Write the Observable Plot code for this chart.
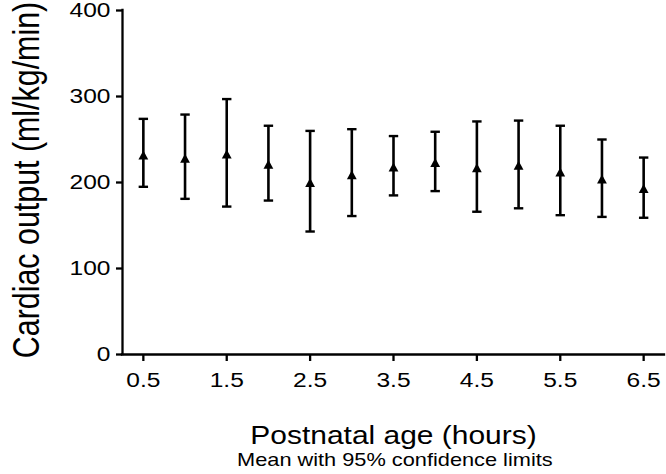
<!DOCTYPE html>
<html>
<head>
<meta charset="utf-8">
<script src="https://cdn.jsdelivr.net/npm/d3@7"></script>
<script src="https://cdn.jsdelivr.net/npm/@observablehq/plot@0.6"></script>
<style>
  html, body { margin: 0; padding: 0; background: #fff; overflow: hidden; }
  #chart svg { display: block; }
  #caption {
    width: 542px; margin-left: 124px; margin-top: 1px; text-align: center;
    font-family: "Liberation Sans", Arial, sans-serif;
    font-size: 18.6px; line-height: 18.6px; color: #000;
    white-space: nowrap;
  }
  #caption span { display: inline-block; transform: scaleX(1.17); transform-origin: center; }
</style>
</head>
<body>
<div id="chart"></div>
<div id="caption"><span>Mean with 95% confidence limits</span></div>
<script>
// Data
const hours = [0.5, 1.0, 1.5, 2.0, 2.5, 3.0, 3.5, 4.0, 4.5, 5.0, 5.5, 6.0, 6.5];
const means = [232, 228, 233, 221, 200, 209, 218, 223, 217, 220, 212, 204, 193];
const upper = [274, 279, 297, 266, 260, 262, 254, 259, 271, 272, 266, 250, 229];
const lower = [195, 181, 172, 179, 143, 161, 185, 190, 166, 170, 162, 160, 159];
const xTicks = [0.5, 1.5, 2.5, 3.5, 4.5, 5.5, 6.5];
const yTicks = [0, 100, 200, 300, 400];
const xLabel = "Postnatal age (hours)";
const yLabel = "Cardiac output (ml/kg/min)";

const data = hours.map((h, i) => ({hour: h, mean: means[i], lo: lower[i], hi: upper[i]}));

const capSymbol = {
  draw(ctx) { ctx.moveTo(-4.7, 0); ctx.lineTo(4.7, 0); }
};
const triSymbol = {
  draw(ctx) { ctx.moveTo(0, -4.6); ctx.lineTo(4.9, 4.4); ctx.lineTo(-4.9, 4.4); ctx.closePath(); }
};

const font = "Liberation Sans, Arial, Helvetica, sans-serif";

const svg = Plot.plot({
  width: 666,
  height: 450,
  marginLeft: 122,
  marginRight: 2,
  marginTop: 10,
  marginBottom: 96,
  style: {fontFamily: font, fontSize: "21px", color: "#000", background: "#fff", overflow: "visible"},
  x: {domain: [0.25, 6.75]},
  y: {domain: [0, 400]},
  marks: [
    Plot.axisY({ticks: yTicks, tickSize: 6, tickPadding: 6, fontSize: 21, strokeWidth: 2.3, label: null}),
    Plot.axisX({ticks: xTicks, tickFormat: d => d.toFixed(1), tickSize: 7, tickPadding: 11, fontSize: 21, strokeWidth: 2.3, label: null}),
    Plot.ruleX([0.25], {stroke: "#000", strokeWidth: 2.3, strokeLinecap: "square"}),
    Plot.ruleY([0], {stroke: "#000", strokeWidth: 2.3, strokeLinecap: "square"}),
    Plot.ruleX(data, {x: "hour", y1: "lo", y2: "hi", stroke: "#000", strokeWidth: 2.6}),
    Plot.dot(data, {x: "hour", y: "hi", symbol: capSymbol, stroke: "#000", fill: "none", strokeWidth: 2.4}),
    Plot.dot(data, {x: "hour", y: "lo", symbol: capSymbol, stroke: "#000", fill: "none", strokeWidth: 2.4}),
    Plot.dot(data, {x: "hour", y: "mean", symbol: triSymbol, fill: "#000", stroke: "none"}),
    Plot.text([xLabel], {text: d => d, frameAnchor: "bottom", lineAnchor: "bottom", dy: 89.3, fontSize: 25.6, fill: "#000"}),
    Plot.text([yLabel], {text: d => d, frameAnchor: "left", rotate: -90, lineAnchor: "bottom", textAnchor: "middle", dx: -83.7, dy: -2.5, fontSize: 30.4, fill: "#000"})
  ]
});

// Horizontal stretch of the text glyphs, as in the reference image
svg.querySelectorAll("text").forEach(t => {
  const tr = t.getAttribute("transform") || "";
  const groupTr = (t.parentNode && t.parentNode.getAttribute && t.parentNode.getAttribute("transform")) || "";
  const rotated = /rotate/.test(tr) || /rotate/.test(groupTr);
  const x = parseFloat(t.getAttribute("x")) || 0;
  if (rotated) {
    t.setAttribute("transform", `${tr} scale(1,1.2)`);
  } else {
    t.setAttribute("transform", `${tr} translate(${x},0) scale(1.17,1) translate(${-x},0)`);
  }
});

document.getElementById("chart").appendChild(svg);
</script>
</body>
</html>
